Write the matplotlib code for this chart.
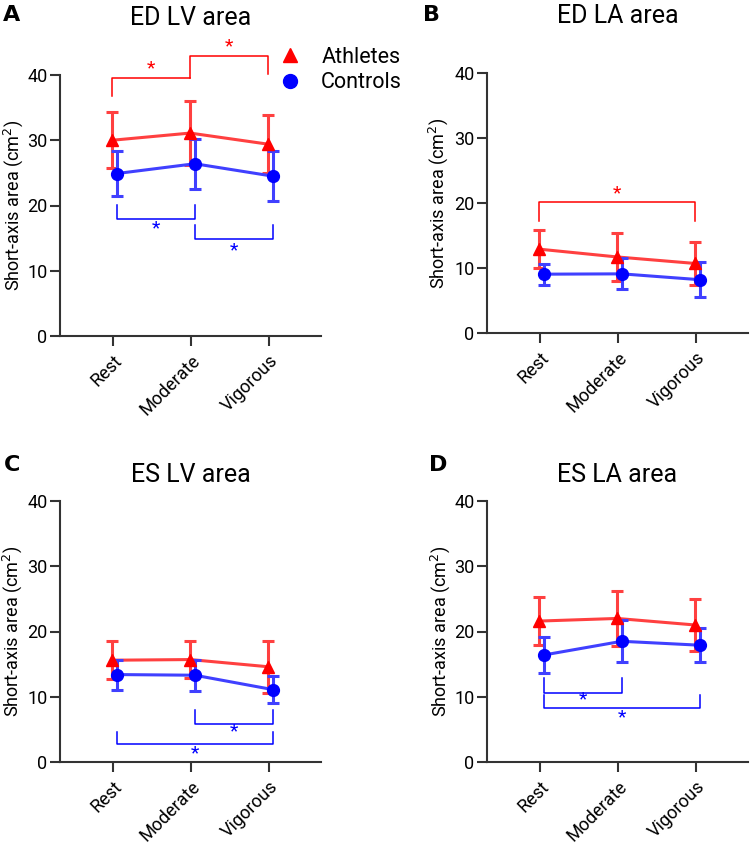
import matplotlib
matplotlib.use("Agg")
import matplotlib.pyplot as plt
from matplotlib import font_manager
from matplotlib.lines import Line2D

# ---------------- data ----------------
categories = ["Rest", "Moderate", "Vigorous"]
yticks = [0, 10, 20, 30, 40]

titles = ["ED LV area", "ED LA area", "ES LV area", "ES LA area"]
panel_labels = ["A", "B", "C", "D"]

ed_lv_ath = [30.0, 31.1, 29.4]
ed_lv_ath_sd = [4.3, 4.9, 4.45]
ed_lv_con = [24.9, 26.4, 24.5]
ed_lv_con_sd = [3.45, 3.8, 3.8]

ed_la_ath = [12.9, 11.7, 10.7]
ed_la_ath_sd = [2.9, 3.7, 3.3]
ed_la_con = [9.05, 9.1, 8.2]
ed_la_con_sd = [1.6, 2.4, 2.7]

es_lv_ath = [15.6, 15.7, 14.6]
es_lv_ath_sd = [2.9, 2.85, 4.0]
es_lv_con = [13.4, 13.3, 11.1]
es_lv_con_sd = [2.3, 2.4, 2.1]

es_la_ath = [21.6, 22.0, 21.0]
es_la_ath_sd = [3.65, 4.2, 4.0]
es_la_con = [16.4, 18.5, 17.9]
es_la_con_sd = [2.8, 3.2, 2.6]

# significance brackets: (group, i, j, left_end, line_y, right_end, star_y)
ed_lv_sig = [("ath", 0, 1, 36.8, 39.5, 39.5, 41.1),
             ("ath", 1, 2, 39.5, 42.9, 40.2, 44.4),
             ("con", 0, 1, 20.1, 18.0, 20.1, 16.5),
             ("con", 1, 2, 17.0, 14.9, 17.0, 13.2)]
ed_la_sig = [("ath", 0, 2, 17.3, 20.1, 17.3, 21.5)]
es_lv_sig = [("con", 1, 2, 8.0, 5.9, 8.0, 4.75),
             ("con", 0, 2, 4.6, 2.8, 4.6, 1.4)]
es_la_sig = [("con", 0, 1, 12.8, 10.6, 12.8, 9.55),
             ("con", 0, 2, 10.2, 8.2, 10.2, 6.8)]

panels = [
    (ed_lv_ath, ed_lv_ath_sd, ed_lv_con, ed_lv_con_sd, ed_lv_sig),
    (ed_la_ath, ed_la_ath_sd, ed_la_con, ed_la_con_sd, ed_la_sig),
    (es_lv_ath, es_lv_ath_sd, es_lv_con, es_lv_con_sd, es_lv_sig),
    (es_la_ath, es_la_ath_sd, es_la_con, es_la_con_sd, es_la_sig),
]

# ---------------- styling ----------------
avail = {f.name for f in font_manager.fontManager.ttflist}
def pick(*names):
    for n in names:
        if n in avail:
            return n
    return "DejaVu Sans"

main_font = pick("Roboto", "Lato", "DejaVu Sans")

line_red = (1.0, 0.25, 0.25)
line_blue = (0.25, 0.25, 1.0)
mark_red = "#ff0000"
mark_blue = "#0000ff"
spine_col = "#333333"

W, H = 750, 843
fig = plt.figure(figsize=(W / 100, H / 100), dpi=100)

# axes rectangles in pixels: (left, right, y_of_0, y_of_40)
rects = [(60, 321, 336, 75), (487, 748, 333, 73),
         (60, 321, 762, 501), (487, 748, 762, 501)]
title_y = [18, 16, 475, 475]
label_pos = [(12, 15), (432, 15), (12, 465), (438, 465)]
ylabel_x = [-0.134, -0.142, -0.138, -0.134]

x_off_ath = -0.01
x_off_con = 0.05

for k, (ath, ath_sd, con, con_sd, sig) in enumerate(panels):
    l, r, y0, y40 = rects[k]
    ax = fig.add_axes([l / W, 1 - y0 / H, (r - l) / W, (y0 - y40) / H])
    x = list(range(len(categories)))
    xa = [v + x_off_ath for v in x]
    xc = [v + x_off_con for v in x]

    ax.errorbar(xa, ath, yerr=ath_sd, color=line_red, lw=2.2, capsize=4.5,
                capthick=2.2, elinewidth=2.2, zorder=2)
    ax.plot(xa, ath, ls="none", marker="^", ms=8, color=mark_red, zorder=4)
    ax.errorbar(xc, con, yerr=con_sd, color=line_blue, lw=2.2, capsize=4.5,
                capthick=2.2, elinewidth=2.2, zorder=3)
    ax.plot(xc, con, ls="none", marker="o", ms=8.5, color=mark_blue, zorder=5)

    for grp, i, j, yl, yline, yr, ys in sig:
        offs = x_off_ath if grp == "ath" else x_off_con
        col = mark_red if grp == "ath" else mark_blue
        x1, x2 = i + offs, j + offs
        ax.plot([x1, x1, x2, x2], [yl, yline, yline, yr], color=col, lw=1.1,
                clip_on=False, zorder=1)
        ax.text((x1 + x2) / 2, ys, "*", color=col, ha="center", va="center",
                fontsize=14, fontfamily=main_font, clip_on=False)

    ax.set_xlim(-0.68, 2.67)
    ax.set_ylim(0, 40)
    ax.set_yticks(yticks)
    ax.set_yticklabels([str(t) for t in yticks], fontfamily=main_font, fontsize=13)
    ax.set_xticks(x)
    ax.set_xticklabels(categories, rotation=45, ha="right", rotation_mode="anchor",
                       fontfamily=main_font, fontsize=13)
    for s in ("top", "right"):
        ax.spines[s].set_visible(False)
    for s in ("left", "bottom"):
        ax.spines[s].set_color(spine_col)
        ax.spines[s].set_linewidth(1.5)
    ax.tick_params(axis="both", direction="out", length=7, width=1.5, color=spine_col)
    ax.tick_params(axis="y", pad=2)
    ax.tick_params(axis="x", pad=4)
    ax.set_ylabel("Short-axis area (cm$^2$)", fontfamily=main_font, fontsize=13)
    ax.yaxis.set_label_coords(ylabel_x[k], 0.5)

    cx = (rects[k][0] + rects[k][1]) / 2
    fig.text(cx / W, 1 - title_y[k] / H, titles[k], ha="center", va="center",
             fontsize=18, fontfamily=main_font)
    lx, ly = label_pos[k]
    fig.text(lx / W, 1 - ly / H, panel_labels[k], ha="center", va="center",
             fontsize=16, fontweight="bold", fontfamily="DejaVu Sans")

    if k == 0:
        handles = [Line2D([], [], ls="none", marker="^", ms=10, color=mark_red),
                   Line2D([], [], ls="none", marker="o", ms=10, color=mark_blue)]
        ax.legend(handles, ["Athletes", "Controls"], loc="upper left",
                  bbox_to_anchor=(0.84, 1.108), frameon=False,
                  prop={"family": main_font, "size": 15.5}, handlelength=1.0,
                  handletextpad=0.95, labelspacing=0.2, borderaxespad=0,
                  borderpad=0)

fig.savefig("out.png", dpi=100)
